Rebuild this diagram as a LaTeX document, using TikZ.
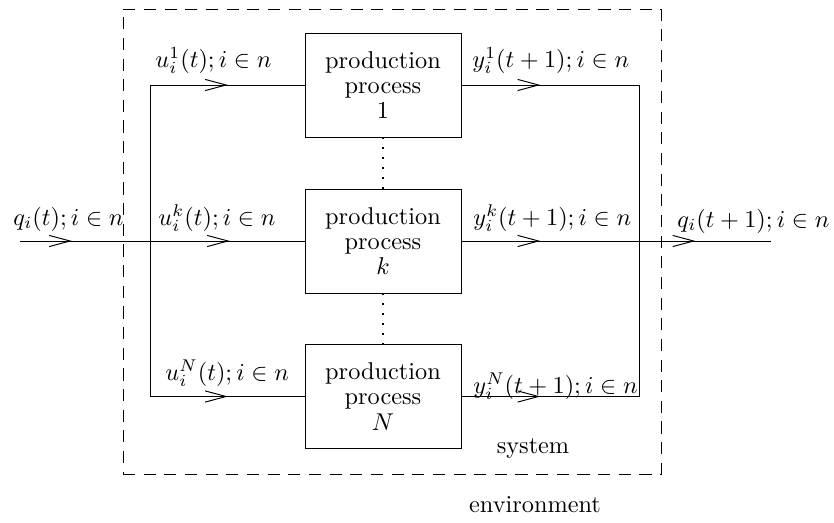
\documentclass[tikz,border=0pt]{standalone}
\usetikzlibrary{decorations.markings}
\tikzset{
  chev/.style={postaction={decorate,decoration={markings,
     mark=at position #1 with {\draw[solid,line width=0.4pt,line join=miter] (-8.6pt,2.3pt) -- (0pt,0pt) -- (-8.6pt,-2.3pt);}}}},
  proc/.style={draw,line width=0.4pt,minimum width=156*0.4115pt,minimum height=104*0.4115pt,inner sep=0pt,
     align=center,font=\fontsize{10pt}{10.4pt}\selectfont},
  lbl/.style={inner sep=0pt,anchor=base west},
  conn/.style={line width=0.4pt},
  dotline/.style={line width=0.6pt,dash pattern=on 0.6pt off 3.5pt},
}
\begin{document}
\begin{tikzpicture}[x=0.4115pt,y=-0.4115pt]
\useasboundingbox (0,0) rectangle (834,523);
% system boundary
\node[draw,dash pattern=on 5pt off 3.5pt,line width=0.4pt,minimum width=538*0.4115pt,minimum height=465*0.4115pt,inner sep=0pt] (sys) at (392,241.5) {};
% process boxes
\node[proc] (b1) at (383,85) {production\\process\\$1$};
\node[proc] (bk) at (383,241) {production\\process\\$k$};
\node[proc] (bN) at (383,396.5) {production\\process\\$N$};
% dotted links
\draw[dotline] (b1.south) -- (bk.north);
\draw[dotline] (bk.south) -- (bN.north);
% coordinates
\coordinate (in) at (20,241);
\coordinate (L1) at (150,85);
\coordinate (LN) at (150,396.5);
\coordinate (R1) at (639,85);
\coordinate (RN) at (639,396.5);
\coordinate (out) at (771,241);
% connectors
\draw[conn,chev=20.6pt,chev=85.6pt] (in) -- (bk.west);
\draw[conn] (L1) -- (LN);
\draw[conn,chev=31.3pt] (L1) -- (b1.west);
\draw[conn,chev=31.3pt] (LN) -- (bN.west);
\draw[conn,chev=31.7pt] (b1.east) -- (R1);
\draw[conn,chev=31.7pt] (bN.east) -- (RN);
\draw[conn] (R1) -- (RN);
\draw[conn,chev=31.7pt,chev=95.5pt] (bk.east) -- (out);
% labels
\node[lbl] (lq) at (13,225) {$q_i(t); i\in n$};
\node[lbl] (lu1) at (155,67) {$u_i^1(t); i\in n$};
\node[lbl] (luk) at (158,225) {$u_i^k(t); i\in n$};
\node[lbl] (luN) at (165,380) {$u_i^N(t); i\in n$};
\node[lbl] (ly1) at (472,67) {$y_i^1(t+1); i\in n$};
\node[lbl] (lyk) at (473,225) {$y_i^k(t+1); i\in n$};
\node[lbl] (lyN) at (473,393) {$y_i^N(t+1); i\in n$};
\node[lbl] (lqo) at (677,227) {$q_i(t+1); i\in n$};
\node[inner sep=0pt,anchor=base] (lsys) at (533,453) {system};
\node[inner sep=0pt,anchor=base] (lenv) at (535,512) {environment};
\end{tikzpicture}
\end{document}
